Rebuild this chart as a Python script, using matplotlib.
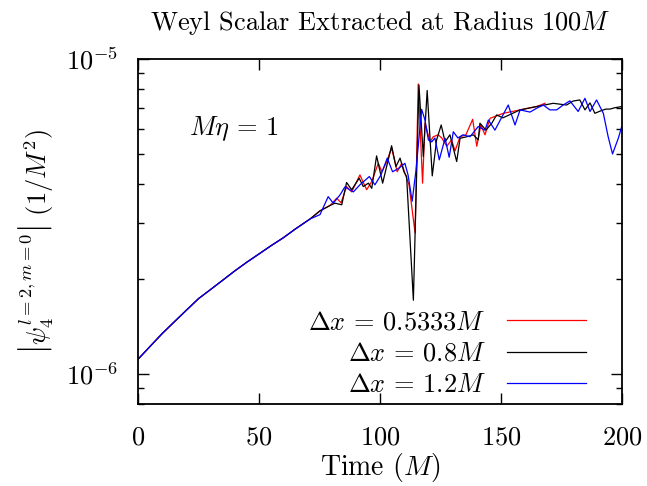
import numpy as np
import matplotlib
matplotlib.use("Agg")
import matplotlib.pyplot as plt
from matplotlib.ticker import NullFormatter, LogLocator, FixedLocator

plt.rcParams['font.family'] = 'serif'
plt.rcParams['font.serif'] = ['cmr10', 'DejaVu Serif']
plt.rcParams['mathtext.fontset'] = 'cm'
plt.rcParams['axes.unicode_minus'] = False
plt.rcParams['axes.formatter.use_mathtext'] = True

# shared early part (all three resolutions agree), psi in units of 1e-6
t_early = [0, 5, 10, 15, 20, 25, 30, 35, 40, 45, 50, 55, 60, 65]
psi_early = [1.11, 1.22, 1.34, 1.46, 1.59, 1.73, 1.85, 1.98, 2.12, 2.26, 2.40, 2.55, 2.70, 2.88]

# dx = 0.5333M
t_red = [71.1, 75.2, 79.3, 82.1, 83.9, 86.2, 88.3, 91.7, 94.5, 96.6, 99.3, 100.8, 102.8,
         104.8, 107.1, 109.0, 110.3, 112.0, 114.5, 115.8, 117.6, 118.6, 120.7, 122.0,
         124.1, 125.6, 127.6, 129.6, 131.0, 133.1, 135.5, 138.3, 140.0, 141.7, 143.4,
         145.5, 151.0, 157.9, 164.7, 168.2]
psi_red = [3.10, 3.29, 3.42, 3.61, 3.49, 3.93, 3.78, 4.28, 3.84, 4.08, 4.66, 4.38, 4.72,
           5.21, 4.38, 4.66, 4.33, 3.98, 2.80, 8.33, 4.03, 6.25, 5.45, 5.66,
           5.74, 5.60, 5.28, 5.53, 5.10, 5.66, 5.74, 6.43, 5.28, 6.17, 5.74,
           6.48, 6.72, 6.89, 7.06, 7.23]

# dx = 0.8M
t_black = [71.1, 75.2, 79.3, 81.4, 84.2, 86.2, 88.3, 91.4, 93.1, 95.2, 96.6, 98.6, 101.1,
           104.8, 106.6, 108.3, 109.9, 111.0, 113.8, 116.1, 117.9, 119.5, 121.6, 123.4,
           125.3, 126.9, 128.9, 131.7, 133.1, 135.5, 138.6, 140.6, 141.3, 143.8, 146.2,
           148.2, 150.8, 157.9, 164.7, 171.6, 177.1, 179.8, 182.6, 184.7, 186.8, 188.8,
           191.6, 193.4, 195.0, 197.1, 199.9]
psi_black = [3.10, 3.29, 3.42, 3.48, 3.44, 4.05, 3.84, 4.18, 3.93, 4.03, 3.88, 4.92, 4.03,
             5.30, 4.55, 4.84, 4.38, 4.23, 1.71, 8.27, 4.90, 7.94, 4.25, 5.53,
             6.17, 5.45, 5.74, 4.72, 5.60, 5.65, 5.74, 5.53, 6.25, 5.94, 6.25,
             6.64, 6.50, 6.89, 7.06, 7.23, 7.14, 7.35, 7.41, 6.89, 7.25, 6.72,
             6.86, 6.93, 6.93, 7.00, 7.06]

# dx = 1.2M
t_blue = [71.1, 75.2, 78.6, 80.7, 83.5, 85.5, 89.0, 91.7, 95.6, 97.9, 100.4, 103.0, 105.2,
          107.9, 110.3, 111.6, 113.3, 114.9, 117.2, 118.6, 120.0, 121.4, 122.7, 124.5,
          126.9, 128.6, 130.3, 132.2, 134.3, 137.2, 140.6, 143.4, 144.8, 147.5, 153.0,
          155.8, 157.9, 162.0, 164.7, 167.5, 170.2, 173.0, 175.7, 178.5, 181.9, 184.7,
          186.8, 189.5, 192.3, 194.3, 196.1, 198.5, 199.9]
psi_blue = [3.10, 3.20, 3.65, 3.48, 3.70, 3.92, 3.78, 3.98, 4.23, 3.98, 4.28, 4.84, 4.38,
            4.50, 4.66, 4.28, 3.53, 4.44, 6.92, 6.40, 5.53, 5.45, 5.61, 4.78,
            5.60, 4.87, 5.87, 5.61, 5.74, 5.66, 6.10, 5.94, 6.40, 5.94, 7.14,
            6.17, 6.89, 6.78, 6.97, 7.14, 6.89, 6.89, 7.14, 7.36, 6.81, 7.50,
            6.81, 7.41, 6.72, 5.66, 4.99, 5.60, 6.10]

labels = [r'$\Delta x \,=\, 0.5333M$', r'$\Delta x \,=\, 0.8M$', r'$\Delta x \,=\, 1.2M$']
colors = ['#ff0000', '#000000', '#0000ff']

fig = plt.figure(figsize=(6.47, 4.86), dpi=100)
ax = fig.add_axes([0.2133, 0.1687, 0.748, 0.7099])

series = [(t_red, psi_red), (t_black, psi_black), (t_blue, psi_blue)]
for (t, p), c, lab in zip(series, colors, labels):
    tt = np.array(t_early + t)
    pp = np.array(psi_early + p) * 1e-6
    ax.plot(tt, pp, color=c, lw=0.9, label=lab)

ax.set_yscale('log')
ax.set_xlim(0, 200)
ax.set_ylim(8e-7, 1e-5)
ax.set_xticks([0, 50, 100, 150, 200])
ax.yaxis.set_major_locator(FixedLocator([1e-6, 1e-5]))
ax.yaxis.set_minor_locator(LogLocator(base=10, subs=np.arange(2, 10)))
ax.yaxis.set_minor_formatter(NullFormatter())
ax.tick_params(which='both', direction='in', top=True, right=True, width=1.0)
ax.tick_params(which='major', length=8, labelsize=19)
ax.tick_params(which='minor', length=4)
ax.tick_params(axis='x', which='major', pad=16)
ax.tick_params(axis='y', which='major', pad=14)
for s in ax.spines.values():
    s.set_linewidth(1.3)

ax.text(21, 6.0e-6, r'$M\eta \,=\, 1$', fontsize=19, va='center', ha='left')

leg = ax.legend(loc='lower right', bbox_to_anchor=(0.926, 0.019), frameon=False,
                markerfirst=False, fontsize=19, handlelength=3.0,
                handletextpad=0.8, labelspacing=0.3, borderpad=0, borderaxespad=0)

fig.text(0.587, 0.953, r'Weyl Scalar Extracted at Radius $100M$', fontsize=19,
         ha='center', va='center')
fig.text(0.587, 0.038, r'Time ($M$)', fontsize=20, ha='center', va='center')
fig.text(0.056, 0.503, r'$\left|\psi_4^{l=2,m=0}\right|\ (1/M^2)$', fontsize=19,
         ha='center', va='center', rotation=90)

fig.savefig('out.png', dpi=100)
